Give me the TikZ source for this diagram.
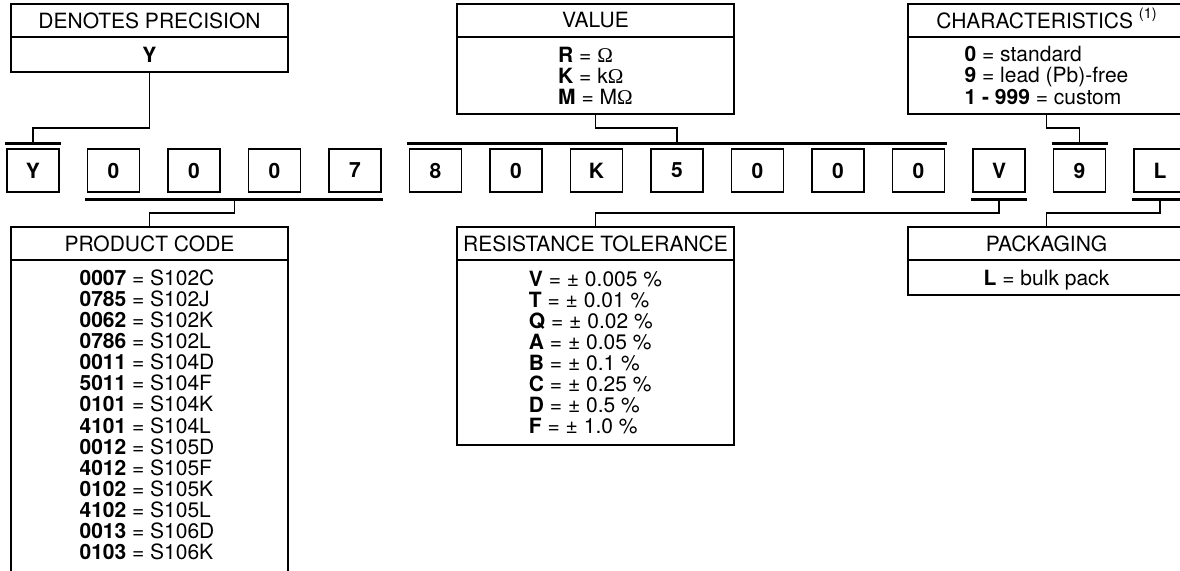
\documentclass[tikz,border=0pt]{standalone}
\usepackage{fontspec}
\setmainfont{TeX Gyre Heros}
\newfontfamily\omegafont{Liberation Serif}
\newcommand{\Om}{{\omegafont Ω}}
\begin{document}
\begin{tikzpicture}[x=1pt,y=-1pt,
  txtfont/.style={font=\fontsize{21}{21.1}\selectfont},
  box/.style={draw, line width=1.7pt, minimum width=277pt, anchor=north west,
    inner sep=0pt, outer sep=0pt, txtfont, align=left},
  hdr/.style={box, minimum height=33pt},
  chr/.style={draw, line width=1.7pt, minimum width=52pt, minimum height=43pt,
    inner sep=0pt, outer sep=0pt, font=\fontsize{21}{21.1}\selectfont\bfseries},
  bar/.style={fill=black, minimum height=3pt, inner sep=0pt, outer sep=0pt},
  conn/.style={line width=1.5pt},
]
\useasboundingbox (0,0) rectangle (1180,570);
\fill[white] (0,0) rectangle (1180,570);
\clip (0,0) rectangle (1180,570);

% top boxes
\node[hdr] (dpH) at (11,4) {DENOTES PRECISION};
\node[box, minimum height=35pt] (dpB) at (11,37) {\textbf{Y}};
\node[hdr] (vaH) at (457,4) {VALUE};
\node[box, minimum height=77pt] (vaB) at (457,37) {\textbf{R} = \Om\\\textbf{K} = k\Om\\\textbf{M} = M\Om};
\node[hdr, text depth=0pt, text height=15pt] (chH) at (908,4) {CHARACTERISTICS \raisebox{0.45em}{\fontsize{14.5}{15}\selectfont (1)}};
\node[box, minimum height=77pt] (chB) at (908,37) {\textbf{0} = standard\\\textbf{9} = lead (Pb)-free\\\textbf{1 - 999} = custom};

% character row
\foreach \c [count=\i from 0] in {Y,0,0,0,7,8,0,K,5,0,0,0,V,9,L}
  \node[chr] (c\i) at (33+80.5*\i,170.5) {\c};

% bars
\node[bar, minimum width=56pt] (bY) at (33,143) {};
\node[bar, minimum width=540pt] (bV) at (677,143) {};
\node[bar, minimum width=56pt] (bC) at (1079.5,143) {};
\node[bar, minimum width=298pt] (bP) at (234.25,199) {};
\node[bar, minimum width=56pt] (bR) at (999,199) {};
\node[bar, minimum width=56pt] (bL) at (1160,199) {};

% lower boxes
\node[hdr] (pcH) at (11,227) {PRODUCT CODE};
\node[box, minimum height=340pt] (pcB) at (11,260) {};
\node[txtfont, align=left, anchor=north, inner sep=0pt] (pcT) at (147,269.5)
 {\textbf{0007} = S102C\\\textbf{0785} = S102J\\\textbf{0062} = S102K\\\textbf{0786} = S102L\\
  \textbf{0011} = S104D\\\textbf{5011} = S104F\\\textbf{0101} = S104K\\\textbf{4101} = S104L\\
  \textbf{0012} = S105D\\\textbf{4012} = S105F\\\textbf{0102} = S105K\\\textbf{4102} = S105L\\
  \textbf{0013} = S106D\\\textbf{0103} = S106K};
\node[hdr] (rtH) at (457,227) {RESISTANCE TOLERANCE};
\node[box, minimum height=185pt] (rtB) at (457,260)
 {\textbf{V} = ± 0.005 \%\\\textbf{T} = ± 0.01 \%\\\textbf{Q} = ± 0.02 \%\\\textbf{A} = ± 0.05 \%\\
  \textbf{B} = ± 0.1 \%\\\textbf{C} = ± 0.25 \%\\\textbf{D} = ± 0.5 \%\\\textbf{F} = ± 1.0 \%};
\node[hdr] (pkH) at (908,227) {PACKAGING};
\node[box, minimum height=35pt, text depth=0pt] (pkB) at (908,260) {\textbf{L} = bulk pack};

% connectors
\draw[conn] (dpB.south) -- ++(0,56) -| (bY.north);
\draw[conn] (vaB.south) -- ++(0,14) -| (bV.north);
\draw[conn] (chB.south) -- ++(0,14) -| (bC.north);
\draw[conn] (bP.south) -- ++(0,12.5) -| (pcH.north);
\draw[conn] (bR.south) -- ++(0,12.5) -| (rtH.north);
\draw[conn] (bL.south) -- ++(0,12.5) -| (pkH.north);
\end{tikzpicture}
\end{document}
